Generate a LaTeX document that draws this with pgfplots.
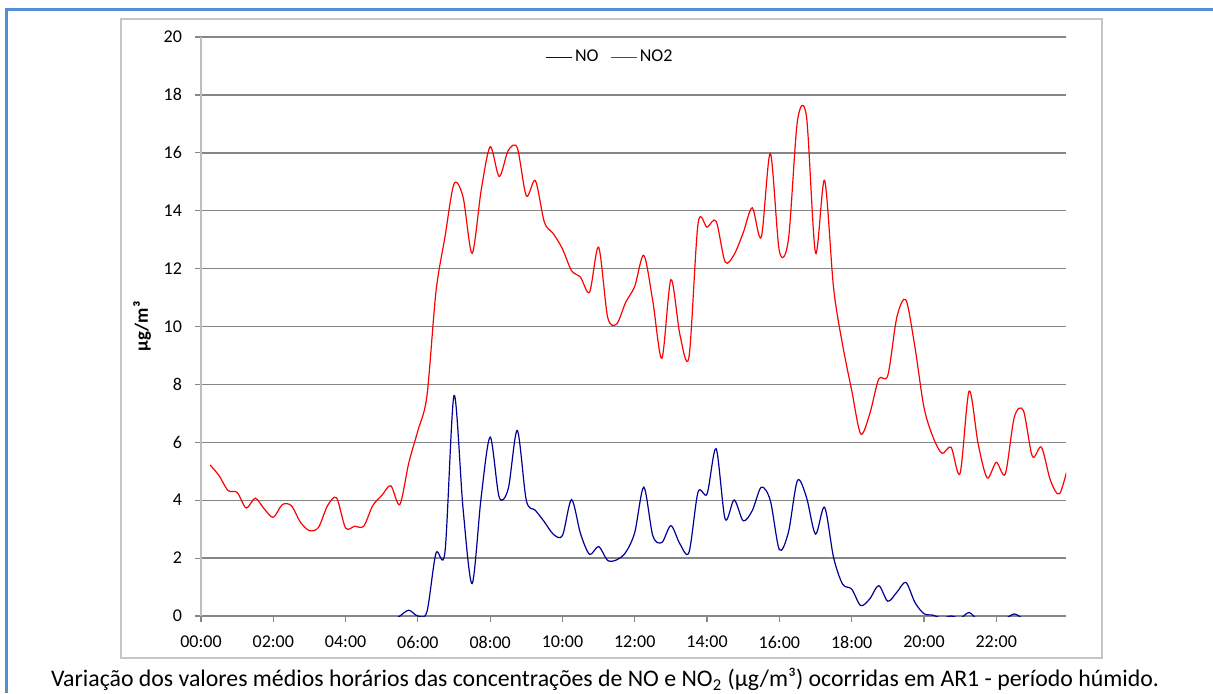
\documentclass[border=0pt]{standalone}
\usepackage{fontspec}
\setmainfont{Carlito}
\usepackage{pgfplots}
\usepackage{pgfplotstable}
\pgfplotsset{compat=1.18}
\pgfplotsset{legend image code/.code={\draw[#1] (0pt,0pt) -- (13pt,0pt);}}

\definecolor{frameblue}{RGB}{84,141,212}
\definecolor{gridgray}{RGB}{134,134,134}
\definecolor{axisgray}{RGB}{190,190,190}
\definecolor{nocol}{RGB}{0,0,150}

% hourly (15 min) averages, hour of day / NO / NO2
\pgfplotstableread{
h     no     no2
0.25  -0.30  5.22
0.50  -0.30  4.85
0.75  -0.30  4.33
1.00  -0.30  4.27
1.25  -0.30  3.73
1.50  -0.30  4.07
1.75  -0.30  3.70
2.00  -0.30  3.41
2.25  -0.30  3.85
2.50  -0.30  3.81
2.75  -0.30  3.24
3.00  -0.30  2.95
3.25  -0.30  3.06
3.50  -0.30  3.81
3.75  -0.30  4.08
4.00  -0.30  3.04
4.25  -0.30  3.10
4.50  -0.30  3.10
4.75  -0.30  3.81
5.00  -0.30  4.16
5.25  -0.20  4.50
5.50   0.00  3.85
5.75   0.20  5.30
6.00   0.00  6.40
6.25   0.15  7.60
6.50   2.17 11.20
6.75   2.22 13.10
7.00   7.62 14.93
7.25   3.70 14.47
7.50   1.12 12.53
7.75   4.10 14.70
8.00   6.18 16.21
8.25   4.10 15.18
8.50   4.40 16.08
8.75   6.41 16.17
9.00   3.99 14.51
9.25   3.65 15.04
9.50   3.25 13.60
9.75   2.82 13.20
10.00  2.78 12.68
10.25  4.02 11.93
10.50  2.84 11.70
10.75  2.13 11.19
11.00  2.40 12.74
11.25  1.92 10.32
11.50  1.94 10.09
11.75  2.20 10.84
12.00  2.89 11.39
12.25  4.45 12.46
12.50  2.77 10.87
12.75  2.54  8.90
13.00  3.12 11.62
13.25  2.49  9.71
13.50  2.20  8.95
13.75  4.28 13.55
14.00  4.22 13.43
14.25  5.78 13.64
14.50  3.35 12.23
14.75  4.01 12.49
15.00  3.29 13.24
15.25  3.64 14.10
15.50  4.45 13.09
15.75  3.99 15.98
16.00  2.29 12.60
16.25  2.89 13.00
16.50  4.68 17.10
16.75  4.10 17.25
17.00  2.83 12.54
17.25  3.76 15.05
17.50  2.02 11.33
17.75  1.10  9.36
18.00  0.93  7.80
18.25  0.36  6.29
18.50  0.59  6.98
18.75  1.05  8.19
19.00  0.51  8.31
19.25  0.82 10.32
19.50  1.16 10.92
19.75  0.47  9.29
20.00  0.08  7.21
20.25  0.03  6.18
20.50 -0.08  5.62
20.75  0.00  5.83
21.00 -0.08  4.93
21.25  0.12  7.77
21.50 -0.15  5.94
21.75 -0.25  4.77
22.00 -0.25  5.31
22.25 -0.10  4.91
22.50  0.07  6.87
22.75 -0.10  7.10
23.00 -0.25  5.51
23.25 -0.30  5.83
23.50 -0.30  4.68
23.75 -0.30  4.22
24.00 -0.30  5.25
}\datatable

\begin{document}
\begin{tikzpicture}
\useasboundingbox (0,0) rectangle (606.5pt,346.5pt);
% outer border (top and left)
\draw[frameblue, line width=1.8pt] (3.15pt,0pt) -- (3.15pt,341.75pt) -- (606.5pt,341.75pt);
% chart area
\draw[gray!45, line width=0.6pt] (60.5pt,17.5pt) rectangle (551pt,337pt);

\begin{axis}[
    at={(100.5pt,38.5pt)}, anchor=south west,
    scale only axis,
    width=432.5pt, height=289.5pt,
    xmin=0, xmax=23.93,
    ymin=0, ymax=20,
    axis x line*=bottom,
    axis y line*=left,
    x axis line style={draw=gridgray, line width=0.6pt, -},
    y axis line style={draw=axisgray, line width=0.8pt, -},
    xtick={0,2,...,22},
    xticklabels={00:00,02:00,04:00,06:00,08:00,10:00,12:00,14:00,16:00,18:00,20:00,22:00},
    ytick={0,2,...,20},
    tick align=outside,
    major tick length=3pt,
    tick style={draw=gridgray, line width=0.6pt},
    ymajorgrids=true,
    major grid style={draw=gridgray, line width=0.7pt},
    /pgf/number format/assume math mode=true,
    ticklabel style={font=\fontsize{9}{10}\selectfont, text=black},
    yticklabel style={xshift=-3pt},
    xticklabel style={yshift=-3.5pt},
    ylabel={\textbf{µg/m³}},
    ylabel style={at={(axis description cs:-0.068,0.5)}, anchor=center, font=\fontsize{9.4}{10}\selectfont},
    legend columns=2,
    legend style={at={(rel axis cs:0.473,0.965)}, anchor=center, draw=none, fill=none,
        font=\fontsize{9}{10}\selectfont,
        /tikz/every even column/.append style={column sep=5pt},
        nodes={inner sep=1pt}},
    clip=true,
]
\addplot[nocol, line width=0.6pt, smooth, tension=0.5]
    table[x=h, y=no] {\datatable};
\addlegendentry{NO}
\addplot[red, line width=0.6pt, smooth, tension=0.5]
    table[x=h, y=no2] {\datatable};
\addlegendentry{NO2}
\end{axis}

\node[anchor=base, font=\fontsize{11.9}{14}\selectfont, inner sep=0pt] at (302.5pt,3.2pt)
    {Variação dos valores médios horários das concentrações de NO e NO\textsubscript{2} (µg/m³) ocorridas em AR1 - período húmido.};
\end{tikzpicture}
\end{document}
